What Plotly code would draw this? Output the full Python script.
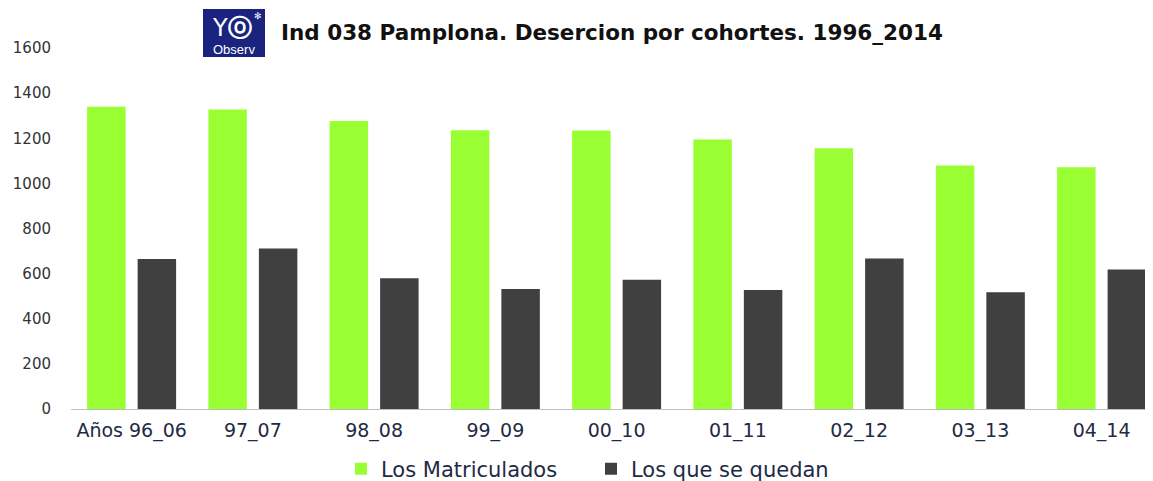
import plotly.graph_objects as go

categories = ["Años 96_06", "97_07", "98_08", "99_09", "00_10", "01_11", "02_12", "03_13", "04_14"]
matriculados = [1340, 1327, 1277, 1235, 1234, 1194, 1156, 1079, 1071]
se_quedan = [665, 711, 579, 532, 573, 527, 667, 518, 618]
y_ticks = [0, 200, 400, 600, 800, 1000, 1200, 1400, 1600]

OFF = 8  # page body margin
W, H = 1153 - OFF, 481 - OFF
L, T, R = 71 - OFF, 48 - OFF, 0
B = H - (409 - OFF)
PW, PH = W - L - R, H - T - B

def px(x):  # page x -> paper fraction
    return (x - OFF - L) / PW

def py(y):  # page y -> paper fraction
    return (H - B - (y - OFF)) / PH

text_col = "#1f2a44"

fig = go.Figure()
fig.add_trace(go.Bar(name="Los Matriculados", x=categories, y=matriculados,
                     marker=dict(color="#99ff33", line=dict(width=0))))
fig.add_trace(go.Bar(name="Los que se quedan", x=categories, y=se_quedan,
                     marker=dict(color="#404040", line=dict(width=0))))

fig.update_layout(
    width=W, height=H,
    margin=dict(l=L, r=R, t=T, b=B, autoexpand=False),
    paper_bgcolor="white", plot_bgcolor="white",
    barmode="group", bargap=0.167, bargroupgap=0.238,
    showlegend=True,
    legend=dict(orientation="h", xref="container", yref="container",
                x=(341 - OFF) / W, xanchor="left", y=1 - (469 - OFF) / H, yanchor="middle",
                font=dict(family="DejaVu Sans", size=21, color=text_col),
                entrywidth=205, entrywidthmode="pixels",
                tracegroupgap=0, bgcolor="rgba(0,0,0,0)"),
    xaxis=dict(range=[-0.5, 8.424], showgrid=False, showline=True, linecolor="#bfbfbf", linewidth=1,
               ticks="", ticklabelstandoff=4,
               tickfont=dict(family="DejaVu Sans", size=19, color=text_col),
               zeroline=False),
    yaxis=dict(range=[0, 1600], tickvals=y_ticks, showgrid=False, showline=False, zeroline=False,
               ticks="", ticklabelstandoff=19,
               tickfont=dict(family="DejaVu Sans", size=15, color="#333333")),
)

# Logo
fig.add_shape(type="rect", xref="paper", yref="paper",
              x0=px(203), x1=px(265), y0=py(57), y1=py(9),
              fillcolor="#1a237e", line=dict(width=0), layer="above")
fig.add_annotation(xref="paper", yref="paper", x=px(232), y=py(28), text="Y<b>ⓞ</b>",
                   showarrow=False, font=dict(family="DejaVu Sans", size=24, color="white"),
                   xanchor="center", yanchor="middle")
fig.add_annotation(xref="paper", yref="paper", x=px(258), y=py(16), text="✻",
                   showarrow=False, font=dict(family="DejaVu Sans", size=9, color="white"),
                   xanchor="center", yanchor="middle")
fig.add_annotation(xref="paper", yref="paper", x=px(234), y=py(50), text="Observ",
                   showarrow=False, font=dict(family="Liberation Sans", size=13, color="white"),
                   xanchor="center", yanchor="middle")
# Title
fig.add_annotation(xref="paper", yref="paper", x=px(279), y=py(33),
                   text="<b>Ind 038 Pamplona. Desercion por cohortes. 1996_2014</b>",
                   showarrow=False, font=dict(family="DejaVu Sans", size=21.5, color="#111111"),
                   xanchor="left", yanchor="middle")

fig.write_html("out.html")
